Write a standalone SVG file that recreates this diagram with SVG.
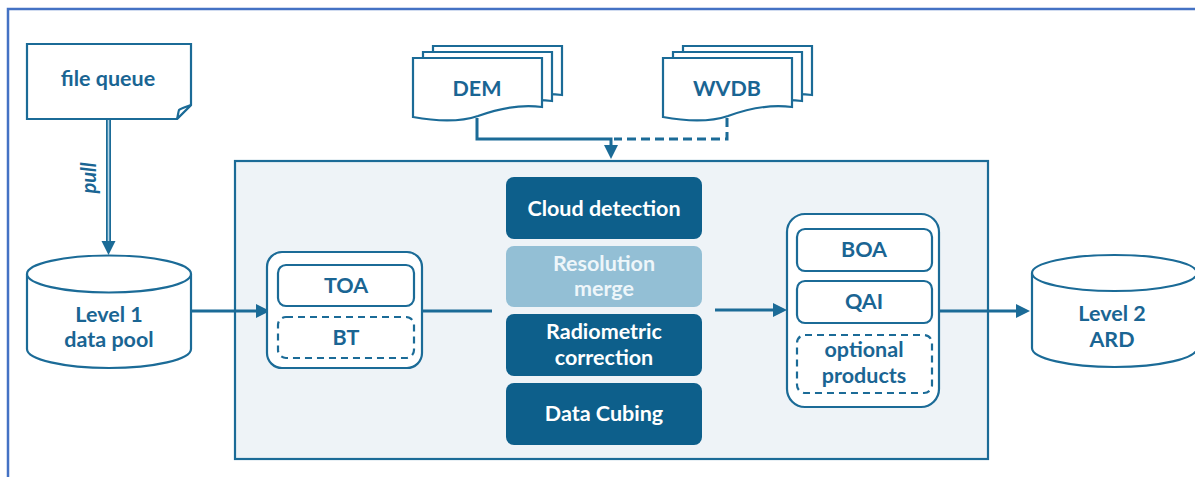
<svg xmlns="http://www.w3.org/2000/svg" width="1195" height="477" viewBox="0 0 1195 477">
<style>
.ln{fill:none;stroke:#1b6b97;stroke-width:2}
.wn{fill:#fff;stroke:#1b6b97;stroke-width:2.2}
.dash{fill:#fff;stroke:#1b6b97;stroke-width:2.2;stroke-dasharray:7 5}
.t{font-family:Lato,"Open Sans",sans-serif;font-weight:bold;font-size:21.5px;fill:#1a6593;text-anchor:middle}
.tw{font-family:Lato,"Open Sans",sans-serif;font-weight:bold;font-size:21.5px;fill:#ffffff;text-anchor:middle}
.dk{fill:#0d5f8b}
.con{fill:none;stroke:#1b6b97;stroke-width:3}
</style>
<rect width="1195" height="477" fill="#fff"/>
<path d="M8,477 V9 H1195" fill="none" stroke="#4472c4" stroke-width="2.5"/>

<g id="container">
<rect x="235" y="161" width="753" height="298" fill="#eef3f7" stroke="#1b6b97" stroke-width="2.2"/>
</g>

<g id="connectors">
<line x1="108.5" y1="119" x2="108.5" y2="242" stroke="#1b6b97" stroke-width="5"/>
<line x1="108.5" y1="119" x2="108.5" y2="242" stroke="#b6d6e6" stroke-width="1.6"/>
<path d="M101.5,241 L115.5,241 L108.5,255 Z" fill="#1b6b97"/>
<text class="t" style="font-style:italic;font-size:20px" transform="translate(96,178) rotate(-90)">pull</text>
<path class="con" d="M477,118 V139 H611 V147"/>
<path d="M604,145 L618,145 L611,159 Z" fill="#1b6b97"/>
<path class="con" d="M727,118 V139 H614" stroke-dasharray="9 5"/>
<line class="con" x1="191" y1="311" x2="258" y2="311"/>
<path d="M256,304 L270,311 L256,318 Z" fill="#1b6b97"/>
<line class="con" x1="422" y1="311" x2="492" y2="311"/>
<line class="con" x1="715" y1="310" x2="775" y2="310"/>
<path d="M773,303 L787,310 L773,317 Z" fill="#1b6b97"/>
<line class="con" x1="939" y1="311" x2="1018" y2="311"/>
<path d="M1016,304 L1030,311 L1016,318 Z" fill="#1b6b97"/>
</g>

<g id="file-queue">
<path class="wn" d="M27,44 H191 V105 L177,119 H27 Z"/>
<path class="wn" d="M191,105 C186,107 181,108 179,110 C178,113 178,116 177,119 Z" stroke-width="1.8"/>
<text class="t" x="108" y="86">file queue</text>
</g>

<g id="dem">
<path class="wn" d="M433,46 H562 V95 C540,92 520,96 498,104 C480,110 460,110 433,105 Z"/>
<path class="wn" d="M423,52 H552 V101 C530,98 510,102 488,110 C470,116 450,116 423,111 Z"/>
<path class="wn" d="M413,58 H542 V107 C520,104 500,108 478,116 C460,122 440,122 413,117 Z"/>
<text class="t" x="477" y="96">DEM</text>
</g>

<g id="wvdb">
<path class="wn" d="M683,46 H812 V95 C790,92 770,96 748,104 C730,110 710,110 683,105 Z"/>
<path class="wn" d="M673,52 H802 V101 C780,98 760,102 738,110 C720,116 700,116 673,111 Z"/>
<path class="wn" d="M663,58 H792 V107 C770,104 750,108 728,116 C710,122 690,122 663,117 Z"/>
<text class="t" x="727" y="96">WVDB</text>
</g>

<g id="level1">
<path class="wn" d="M27,274 V349 A82,19 0 0 0 191,349 V274"/>
<ellipse class="wn" cx="109" cy="274" rx="82" ry="18.5"/>
<text class="t" x="109" y="322">Level 1</text>
<text class="t" x="109" y="347">data pool</text>
</g>

<g id="toa-group">
<rect class="wn" x="267" y="252" width="155" height="116" rx="15"/>
<rect class="wn" x="278" y="265" width="136" height="41" rx="8"/>
<text class="t" x="346" y="293">TOA</text>
<rect class="dash" x="278" y="317" width="136" height="41" rx="8"/>
<text class="t" x="346" y="345">BT</text>
</g>

<g id="cloud-detection">
<rect class="dk" x="506" y="177" width="196" height="62" rx="8"/>
<text class="tw" x="604" y="216">Cloud detection</text>
</g>
<g id="resolution-merge">
<rect x="506" y="246" width="196" height="61" rx="8" fill="#93bfd5"/>
<text class="tw" x="604" y="271" style="fill:#eef6fa">Resolution</text>
<text class="tw" x="604" y="296" style="fill:#eef6fa">merge</text>
</g>
<g id="radiometric-correction">
<rect class="dk" x="506" y="314" width="196" height="62" rx="8"/>
<text class="tw" x="604" y="339">Radiometric</text>
<text class="tw" x="604" y="365">correction</text>
</g>
<g id="data-cubing">
<rect class="dk" x="506" y="383" width="196" height="62" rx="8"/>
<text class="tw" x="604" y="421">Data Cubing</text>
</g>

<g id="boa-group">
<rect class="wn" x="787" y="214" width="152" height="193" rx="18"/>
<rect class="wn" x="797" y="229" width="135" height="42" rx="8"/>
<text class="t" x="864" y="257">BOA</text>
<rect class="wn" x="797" y="281" width="135" height="42" rx="8"/>
<text class="t" x="864" y="309">QAI</text>
<rect class="dash" x="797" y="335" width="135" height="58" rx="8"/>
<text class="t" x="864" y="357">optional</text>
<text class="t" x="864" y="383">products</text>
</g>

<g id="level2">
<path class="wn" d="M1032,273 V348 A82.5,19 0 0 0 1197,348 V273"/>
<ellipse class="wn" cx="1114.5" cy="273" rx="82.5" ry="18"/>
<text class="t" x="1112" y="321">Level 2</text>
<text class="t" x="1112" y="347">ARD</text>
</g>
</svg>
